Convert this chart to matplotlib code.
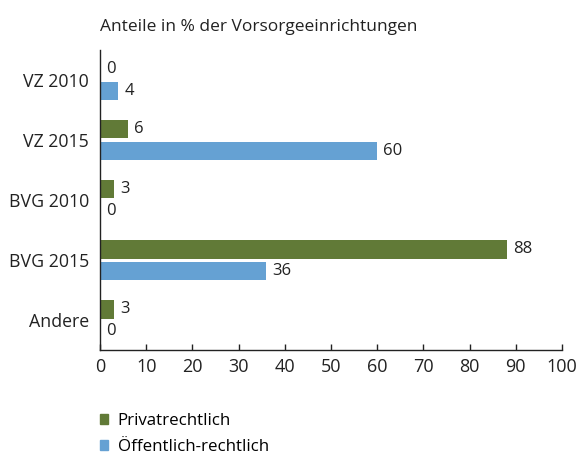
import matplotlib
matplotlib.use("Agg")
import matplotlib.pyplot as plt
from matplotlib.patches import Patch

plt.rcParams['font.family'] = ['Open Sans', 'DejaVu Sans']

categories = ["VZ 2010", "VZ 2015", "BVG 2010", "BVG 2015", "Andere"]
privat = [0, 6, 3, 88, 3]
oeffentlich = [4, 60, 0, 36, 0]
series_names = ["Privatrechtlich", "Öffentlich-rechtlich"]
x_ticks = list(range(0, 101, 10))

green = "#617a37"
blue = "#65a1d3"
ink = "#222222"

fig = plt.figure(figsize=(5.82, 4.55), dpi=100)
ax = fig.add_axes([100 / 582, 1 - 350 / 455, 462 / 582, 300 / 455])

pos = list(range(len(categories)))
h = 0.31
off = 0.18
b1 = ax.barh([p - off for p in pos], privat, height=h, color=green)
b2 = ax.barh([p + off for p in pos], oeffentlich, height=h, color=blue)

for bars, vals in ((b1, privat), (b2, oeffentlich)):
    for bar, v in zip(bars, vals):
        ax.annotate(f"{v}", (v, bar.get_y() + bar.get_height() / 2),
                    xytext=(4.5, 0), textcoords="offset points",
                    ha="left", va="center", fontsize=12, color=ink)

ax.set_ylim(len(categories) - 0.5, -0.5)
ax.set_xlim(0, 100)
ax.set_yticks(pos)
ax.set_yticklabels(categories, fontsize=12.8, color=ink)
ax.set_xticks(x_ticks)
ax.set_xticklabels([str(t) for t in x_ticks], fontsize=13, color=ink)
ax.tick_params(axis="y", length=0, pad=8)
ax.tick_params(axis="x", direction="in", length=4, width=1, pad=5.5, color=ink)
for s in ("top", "right"):
    ax.spines[s].set_visible(False)
for s in ("left", "bottom"):
    ax.spines[s].set_color(ink)
    ax.spines[s].set_linewidth(1)

fig.text(100 / 582, 1 - 31 / 455, "Anteile in % der Vorsorgeeinrichtungen",
         fontsize=12.5, ha="left", va="baseline", color=ink)

handles = [Patch(color=green), Patch(color=blue)]
fig.legend(handles, series_names, loc="upper left",
           bbox_to_anchor=(93 / 582, 1 - 406 / 455), frameon=False,
           fontsize=12.2, handlelength=0.5, handleheight=0.55,
           handletextpad=0.55, labelspacing=0.6, borderaxespad=0)

fig.savefig("out.png", dpi=100)
